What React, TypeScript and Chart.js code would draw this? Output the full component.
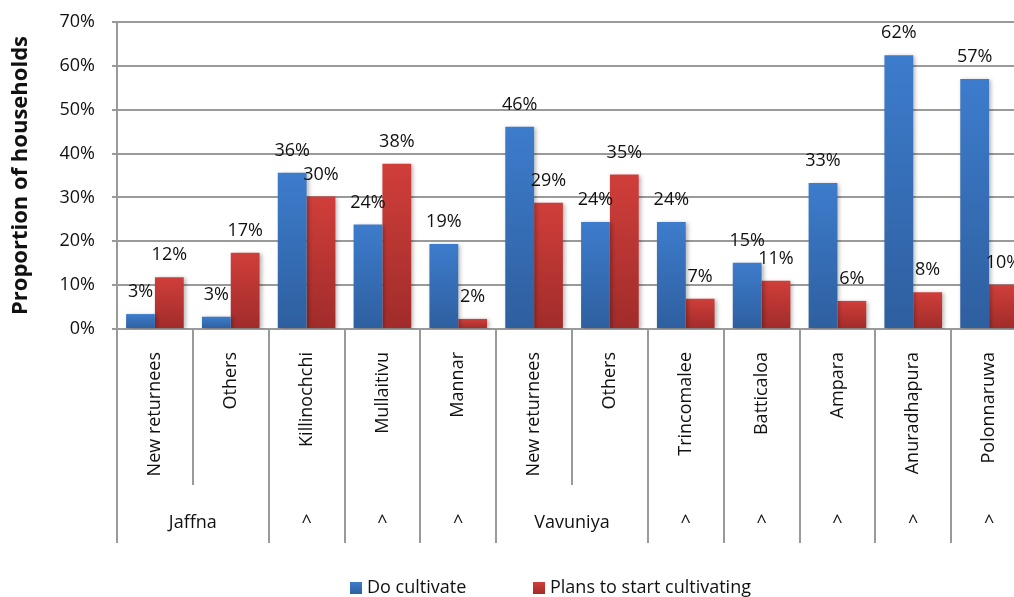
import React, { useEffect, useRef } from 'react';
import { Chart, registerables } from 'chart.js';

Chart.register(...registerables);

const categories = ['New returnees', 'Others', 'Killinochchi', 'Mullaitivu', 'Mannar', 'New returnees', 'Others', 'Trincomalee', 'Batticaloa', 'Ampara', 'Anuradhapura', 'Polonnaruwa'];
const groupLabels = ['Jaffna', '^', '^', '^', 'Vavuniya', '^', '^', '^', '^', '^'];
const groupSpans = [2, 1, 1, 1, 2, 1, 1, 1, 1, 1];
const doCultivate = [3.4, 2.8, 35.6, 23.8, 19.4, 46.1, 24.4, 24.4, 15.1, 33.3, 62.4, 57.0];
const plansToStart = [11.8, 17.4, 30.2, 37.7, 2.3, 28.8, 35.2, 6.9, 11.0, 6.4, 8.4, 10.1];
const seriesNames = ['Do cultivate', 'Plans to start cultivating'];
const yTicks = [0, 10, 20, 30, 40, 50, 60, 70];
const yTitle = 'Proportion of households';

const FONT = '"Open Sans", "Liberation Sans", sans-serif';
const GRID = '#9a9a9a';
const BLUE = ['#3d7ccc', '#2e5f9f'];
const RED = ['#d03e3a', '#a02c2a'];

const makeGrad = (cols: string[]) => (ctx: any) => {
  const chart = ctx.chart;
  const ys = chart.scales && chart.scales.y;
  if (!ys || ctx.type !== 'data') return cols[0];
  const t = ys.getPixelForValue(ctx.raw);
  const b = ys.getPixelForValue(0);
  if (!isFinite(t) || !isFinite(b) || Math.abs(b - t) < 0.5) return cols[0];
  const g = chart.ctx.createLinearGradient(0, t, 0, b);
  g.addColorStop(0, cols[0]);
  g.addColorStop(1, cols[1]);
  return g;
};

const customPlugin = {
  id: 'customDecor',
  beforeDatasetsDraw(chart: any) {
    const c = chart.ctx;
    c.save();
    c.shadowColor = 'rgba(0,0,0,0.28)';
    c.shadowBlur = 4;
    c.shadowOffsetX = 2;
    c.shadowOffsetY = 1;
  },
  afterDatasetsDraw(chart: any) {
    const c = chart.ctx;
    c.restore();
    c.save();
    c.font = `18px ${FONT}`;
    c.fillStyle = '#111';
    c.textAlign = 'center';
    c.textBaseline = 'middle';
    chart.data.datasets.forEach((ds: any, di: number) => {
      const meta = chart.getDatasetMeta(di);
      meta.data.forEach((el: any, i: number) => {
        c.fillText(Math.round(ds.data[i]) + '%', el.x, el.y - 22);
      });
    });
    c.restore();
  },
  afterDraw(chart: any) {
    const c = chart.ctx;
    const xs = chart.scales.x;
    const area = chart.chartArea;
    const n = categories.length;
    const w = (area.right - area.left) / n;
    const bottom = area.bottom;
    const row1End = bottom + 156;
    const row2End = bottom + 214;
    c.save();
    const shortSet = new Set<number>();
    let start = 0;
    groupSpans.forEach((s) => {
      for (let k = 1; k < s; k++) shortSet.add(start + k);
      start += s;
    });
    c.strokeStyle = GRID;
    c.lineWidth = 2;
    for (let i = 0; i <= n; i++) {
      const x = i < n ? xs.getPixelForValue(i) - w / 2 : xs.getPixelForValue(n - 1) + w / 2;
      c.beginPath();
      c.moveTo(Math.round(x), bottom);
      c.lineTo(Math.round(x), shortSet.has(i) ? row1End : row2End);
      c.stroke();
    }
    c.fillStyle = '#111';
    c.font = `18px ${FONT}`;
    categories.forEach((lab, i) => {
      const x = xs.getPixelForValue(i);
      c.save();
      c.translate(x, bottom + 23);
      c.rotate(-Math.PI / 2);
      c.textAlign = 'right';
      c.textBaseline = 'middle';
      c.fillText(lab, 0, 0);
      c.restore();
    });
    c.textAlign = 'center';
    c.textBaseline = 'middle';
    start = 0;
    groupLabels.forEach((lab, gi) => {
      const s = groupSpans[gi];
      const x0 = xs.getPixelForValue(start) - w / 2;
      const x1 = xs.getPixelForValue(start + s - 1) + w / 2;
      c.fillText(lab, (x0 + x1) / 2, bottom + 194);
      start += s;
    });
    const items = [
      { name: seriesNames[0], cols: BLUE, x: 350 },
      { name: seriesNames[1], cols: RED, x: 533 },
    ];
    const ly = 588;
    items.forEach((it) => {
      const g = c.createLinearGradient(0, ly - 6, 0, ly + 6);
      g.addColorStop(0, it.cols[0]);
      g.addColorStop(1, it.cols[1]);
      c.fillStyle = g;
      c.fillRect(it.x, ly - 6, 12, 12);
      c.fillStyle = '#111';
      c.textAlign = 'left';
      c.textBaseline = 'middle';
      c.font = `18px ${FONT}`;
      c.fillText(it.name, it.x + 17, ly);
    });
    c.restore();
  },
};

export default function App() {
  const ref = useRef<HTMLCanvasElement | null>(null);
  useEffect(() => {
    if (!ref.current) return;
    Chart.defaults.font.family = FONT;
    const chart = new Chart(ref.current, {
      type: 'bar',
      data: {
        labels: categories,
        datasets: [
          {
            label: seriesNames[0],
            data: doCultivate,
            backgroundColor: makeGrad(BLUE),
            categoryPercentage: 0.76,
            barPercentage: 1.0,
          },
          {
            label: seriesNames[1],
            data: plansToStart,
            backgroundColor: makeGrad(RED),
            categoryPercentage: 0.76,
            barPercentage: 1.0,
          },
        ],
      },
      options: {
        responsive: false,
        maintainAspectRatio: false,
        animation: false,
        layout: { padding: { top: 22, right: 13, bottom: 268, left: 0 } },
        plugins: {
          legend: { display: false },
          tooltip: { enabled: false },
          title: { display: false },
        },
        scales: {
          x: {
            display: false,
          },
          y: {
            min: 0,
            max: 70,
            afterBuildTicks: (scale: any) => {
              scale.ticks = yTicks.map((v) => ({ value: v }));
            },
            afterFit: (scale: any) => {
              scale.width = 117;
              scale.paddingTop = 10;
              scale.paddingBottom = 10;
            },
            ticks: {
              callback: (v: any) => v + '%',
              font: { size: 18, family: FONT },
              color: '#111',
              padding: 17,
            },
            grid: {
              color: GRID,
              lineWidth: 2,
              tickLength: 5,
              drawTicks: true,
            },
            border: { display: true, color: GRID, width: 2 },
            title: {
              display: true,
              text: yTitle,
              font: { size: 22, weight: 'bold', family: FONT },
              color: '#111',
              padding: { top: 8, bottom: 0 },
            },
          },
        },
      },
      plugins: [customPlugin],
    });
    return () => chart.destroy();
  }, []);
  return (
    <div style={{ position: 'absolute', left: 0, top: 0, width: 1014, height: 597, overflow: 'hidden', background: '#fff' }}>
      <canvas ref={ref} width={1040} height={597} style={{ display: 'block', width: 1040, height: 597 }} />
    </div>
  );
}
